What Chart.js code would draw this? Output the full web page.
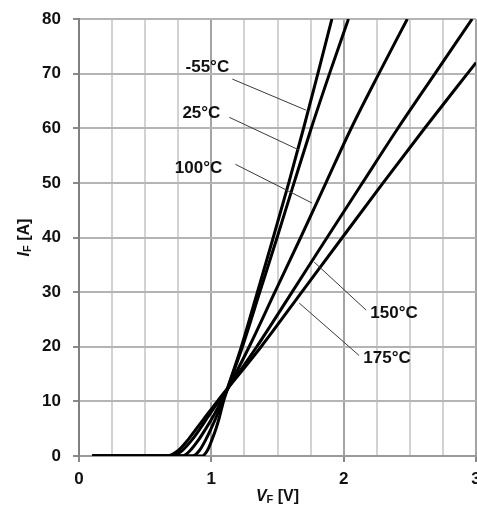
<!DOCTYPE html>
<html>
<head>
<meta charset="utf-8">
<script src="https://cdn.jsdelivr.net/npm/chart.js@4.4.1/dist/chart.umd.min.js"></script>
<style>
  html, body { margin: 0; padding: 0; background: #fff; }
</style>
</head>
<body>
<canvas id="chart" width="477" height="510"></canvas>
<script>
// ==================== DATOS ====================
// Curva directa I_F = f(V_F) para cinco temperaturas de unión
const tempLabels = ['-55°C', '25°C', '100°C', '150°C', '175°C'];

const vfM55 = [0.1, 0.93, 0.97, 1.005, 1.035, 1.06, 1.092, 1.227, 1.348, 1.468, 1.585, 1.697, 1.805, 1.911];
const ifM55 = [0, 0, 1, 3, 5, 7, 10, 20, 30, 40, 50, 60, 70, 80];

const vf25 = [0.1, 0.86, 0.91, 0.958, 0.998, 1.035, 1.085, 1.235, 1.366, 1.497, 1.625, 1.755, 1.893, 2.036];
const if25 = [0, 0, 1, 3, 5, 7, 10, 20, 30, 40, 50, 60, 70, 80];

const vf100 = [0.1, 0.78, 0.84, 0.905, 0.958, 1.008, 1.075, 1.286, 1.48, 1.675, 1.866, 2.057, 2.266, 2.481];
const if100 = [0, 0, 1, 3, 5, 7, 10, 20, 30, 40, 50, 60, 70, 80];

const vf150 = [0.1, 0.71, 0.78, 0.855, 0.915, 0.97, 1.055, 1.343, 1.61, 1.875, 2.142, 2.41, 2.69, 2.971];
const if150 = [0, 0, 1, 3, 5, 7, 10, 20, 30, 40, 50, 60, 70, 80];

const vf175 = [0.1, 0.67, 0.75, 0.825, 0.887, 0.95, 1.045, 1.376, 1.683, 1.99, 2.298, 2.612, 2.935, 3.0];
const if175 = [0, 0, 1, 3, 5, 7, 10, 20, 30, 40, 50, 60, 70, 72];

// etiquetas con línea guía: texto en [V, A], línea desde..hasta en [V, A]
const labelText = [0.97, 71.2,  0.925, 62.8,  0.903, 52.7,  2.381, 26.1,  2.328, 17.9];
const leaderFrom = [1.159, 69.0,  1.136, 62.0,  1.182, 53.4,  1.777, 35.5,  1.664, 28.0];
const leaderTo   = [1.717, 63.3,  1.664, 56.0,  1.762, 46.3,  2.170, 26.7,  2.117, 18.4];

const xTicks = [0, 1, 2, 3];

// ==================== CONFIG ====================
const FONT = "'Liberation Sans', Arial, sans-serif";
const TEXT_COLOR = '#111';

function toPoints(vs, is) {
    return vs.map((v, i) => ({ x: v, y: is[i] }));
}

const series = [
    toPoints(vfM55, ifM55),
    toPoints(vf25, if25),
    toPoints(vf100, if100),
    toPoints(vf150, if150),
    toPoints(vf175, if175)
];

// Títulos de ejes con subíndice
const axisTitles = {
    id: 'axisTitles',
    afterDraw(chart) {
        const ctx = chart.ctx;
        const area = chart.chartArea;

        function drawParts(parts) {
            let w = 0;
            parts.forEach(p => { ctx.font = p.font; w += ctx.measureText(p.t).width; });
            let x = -w / 2;
            parts.forEach(p => {
                ctx.font = p.font;
                ctx.fillText(p.t, x, p.dy);
                x += ctx.measureText(p.t).width;
            });
        }

        ctx.save();
        ctx.fillStyle = TEXT_COLOR;
        ctx.textBaseline = 'middle';
        ctx.textAlign = 'left';

        // eje X
        ctx.save();
        ctx.translate((area.left + area.right) / 2, 497);
        drawParts([
            { t: 'V', font: 'italic bold 16px ' + FONT, dy: 0 },
            { t: 'F', font: 'bold 11px ' + FONT, dy: 3 },
            { t: ' [V]', font: 'bold 16px ' + FONT, dy: 0 }
        ]);
        ctx.restore();

        // eje Y
        ctx.save();
        ctx.translate(25, (area.top + area.bottom) / 2);
        ctx.rotate(-Math.PI / 2);
        drawParts([
            { t: 'I', font: 'italic bold 16px ' + FONT, dy: 0 },
            { t: 'F', font: 'bold 11px ' + FONT, dy: 3 },
            { t: ' [A]', font: 'bold 16px ' + FONT, dy: 0 }
        ]);
        ctx.restore();

        ctx.restore();
    }
};

// Etiquetas de temperatura con líneas guía
const tempCallouts = {
    id: 'tempCallouts',
    afterDatasetsDraw(chart) {
        const ctx = chart.ctx;
        const sx = chart.scales.x;
        const sy = chart.scales.y;

        ctx.save();
        ctx.strokeStyle = '#3a3a3a';
        ctx.lineWidth = 1;
        ctx.fillStyle = TEXT_COLOR;
        ctx.font = 'bold 17px ' + FONT;
        ctx.textAlign = 'center';
        ctx.textBaseline = 'middle';

        tempLabels.forEach((label, i) => {
            ctx.beginPath();
            ctx.moveTo(sx.getPixelForValue(leaderFrom[2 * i]), sy.getPixelForValue(leaderFrom[2 * i + 1]));
            ctx.lineTo(sx.getPixelForValue(leaderTo[2 * i]), sy.getPixelForValue(leaderTo[2 * i + 1]));
            ctx.stroke();

            ctx.fillText(label,
                sx.getPixelForValue(labelText[2 * i]),
                sy.getPixelForValue(labelText[2 * i + 1]));
        });
        ctx.restore();
    }
};

// ==================== CHART ====================
new Chart(document.getElementById('chart').getContext('2d'), {
    type: 'line',
    data: {
        datasets: series.map((pts, i) => ({
            label: tempLabels[i],
            data: pts,
            borderColor: '#000',
            borderWidth: 3,
            pointRadius: 0,
            fill: false,
            cubicInterpolationMode: 'monotone'
        }))
    },
    options: {
        responsive: false,
        animation: false,
        events: [],
        layout: { padding: { top: 19, right: 1, left: 0, bottom: 0 } },
        plugins: {
            legend: { display: false },
            tooltip: { enabled: false }
        },
        scales: {
            x: {
                type: 'linear',
                min: 0,
                max: 3,
                afterBuildTicks(scale) {
                    scale.ticks = [];
                    for (let v = 0; v <= 3.0001; v += 0.25) {
                        scale.ticks.push({ value: Math.round(v * 100) / 100 });
                    }
                },
                afterFit(scale) {
                    scale.height = 54;
                    scale.paddingLeft = 0;
                    scale.paddingRight = 0;
                },
                border: { color: '#9a9a9a', width: 2 },
                grid: {
                    color: c => (c.tick && xTicks.includes(c.tick.value)) ? '#a4a4a4' : '#d2d2d2',
                    lineWidth: 2,
                    tickLength: 6,
                    tickColor: c => (c.tick && xTicks.includes(c.tick.value)) ? '#8a8a8a' : 'rgba(0,0,0,0)'
                },
                ticks: {
                    autoSkip: false,
                    maxRotation: 0,
                    padding: 7,
                    color: TEXT_COLOR,
                    font: { family: FONT, size: 17, weight: 'bold' },
                    callback: v => xTicks.includes(v) ? String(v) : ''
                }
            },
            y: {
                type: 'linear',
                min: 0,
                max: 80,
                afterFit(scale) {
                    scale.width = 79;
                    scale.paddingTop = 0;
                    scale.paddingBottom = 0;
                },
                border: { color: '#808080', width: 2 },
                grid: {
                    color: '#b4b4b4',
                    lineWidth: 2,
                    tickLength: 6,
                    tickColor: '#8a8a8a'
                },
                ticks: {
                    stepSize: 10,
                    padding: 12,
                    color: TEXT_COLOR,
                    font: { family: FONT, size: 17, weight: 'bold' }
                }
            }
        }
    },
    plugins: [tempCallouts, axisTitles]
});
</script>
</body>
</html>
